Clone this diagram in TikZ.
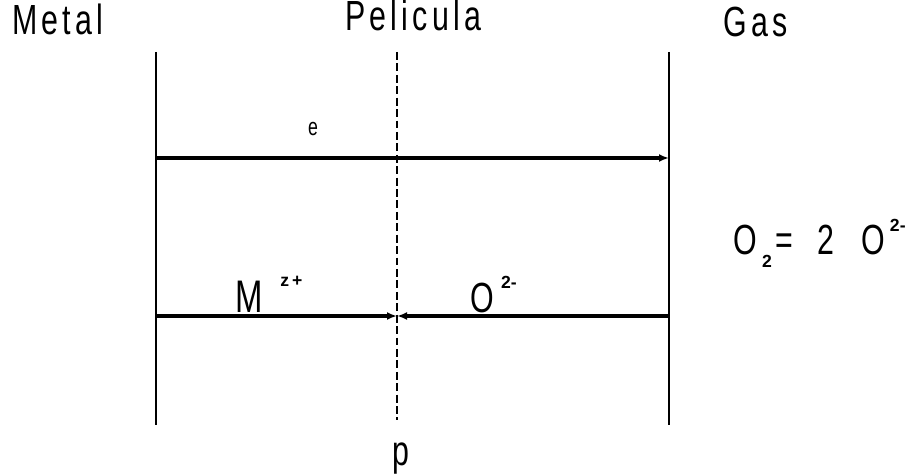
\documentclass[tikz,border=0pt]{standalone}
\usepackage{fontspec}
\setmainfont{Liberation Sans}
\newfontfamily\thinfont[FakeStretch=0.72, LetterSpace=10]{Liberation Sans}
\newfontfamily\supfont{Liberation Sans}
\newcommand{\ionsup}[1]{\raisebox{0.55em}{\supfont\bfseries\fontsize{10}{11}\selectfont #1}}
\newcommand{\ionsub}[1]{\raisebox{-0.3em}{\supfont\bfseries\fontsize{10}{11}\selectfont #1}}
\usetikzlibrary{arrows.meta,positioning}

\begin{document}
\begin{tikzpicture}[x=0.02cm, y=-0.02cm,
    every node/.style={font=\thinfont\fontsize{24}{28}\selectfont, inner sep=0pt},
    wall/.style={line width=1.2pt},
    flux/.style={line width=2.1pt, -{Latex[length=2mm, width=1.6mm]}}]
    \useasboundingbox (0,0) rectangle (909,476);
    % walls
    \coordinate (mtop) at (156,52);
    \coordinate (mbot) at (156,425);
    \coordinate (gtop) at (669,52);
    \coordinate (gbot) at (669,425);
    \coordinate (ptop) at (397,52);
    \coordinate (pbot) at (397,420);
    \draw[wall] (mtop) -- (mbot);
    \draw[wall] (gtop) -- (gbot);
    \draw[line width=0.8pt, dash pattern=on 4.5pt off 2pt] (ptop) -- (pbot);
    % fluxes
    \coordinate (e0) at (156,158);
    \coordinate (e1) at (669,158);
    \coordinate (m0) at (156,316);
    \coordinate (mid) at (397,316);
    \coordinate (o0) at (669,316);
    \draw[flux] (e0) -- (e1);
    \draw[flux] (m0) -- (mid);
    \draw[flux] (o0) -- (mid);
    % labels
    \node[anchor=base west] (metal) at (12,35) {Metal};
    \node[anchor=base west] (pel) at (345,31) {Pelicula};
    \node[anchor=base west] (gas) at (723,37) {Gas};
    \node[anchor=base, font=\thinfont\fontsize{14}{16}\selectfont] (elec) at (313,136) {e};
    \node[anchor=base west] (metion) at (235,312) {\fontsize{26}{28}\selectfont M\hspace{10pt}\ionsup{z\,+}};
    \node[anchor=base west] (oxion) at (470,312) {O\hspace{4pt}\ionsup{2-}};
    \node[anchor=base west] (react) at (733,255) {O\hspace{3pt}\ionsub{2}\hspace{2pt}=\hspace{14pt}2\hspace{15pt}O\hspace{3pt}\ionsup{2-}};
    \node[anchor=base west] (pos) at (392,465) {p};
\end{tikzpicture}
\end{document}
